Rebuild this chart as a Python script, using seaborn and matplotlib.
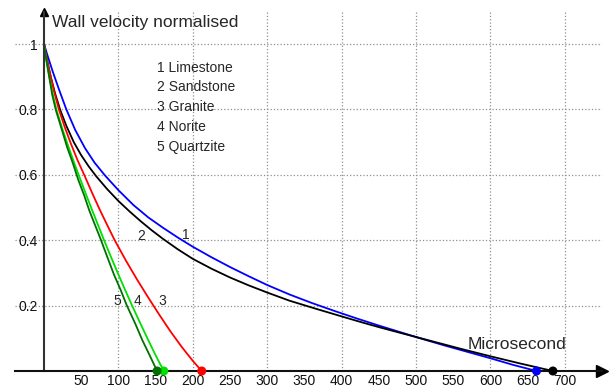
import pandas as pd
import numpy as np
import seaborn as sns
import matplotlib.pyplot as plt

# valores (microsegundos, velocidade normalizada)
rochas = ["Limestone", "Sandstone", "Granite", "Norite", "Quartzite"]
cores = ["#0000ff", "#000000", "#ff0000", "#00e000", "#007000"]

limestone_x = [0, 5, 12, 20, 30, 42, 55, 68, 82, 100, 120, 140, 160, 180, 200, 225, 250,
               275, 300, 330, 360, 390, 420, 450, 480, 510, 540, 570, 600, 630, 662]
limestone_y = [1, 0.963, 0.914, 0.862, 0.8, 0.737, 0.682, 0.637, 0.598, 0.553, 0.508, 0.47,
               0.438, 0.408, 0.38, 0.348, 0.318, 0.29, 0.263, 0.234, 0.208, 0.184, 0.161,
               0.139, 0.118, 0.097, 0.077, 0.058, 0.039, 0.019, 0]
sandstone_x = [0, 4, 9, 15, 22, 30, 40, 50, 60, 70, 85, 100, 115, 130, 145, 160, 180, 200,
               225, 250, 275, 300, 330, 366, 400, 430, 452, 480, 500, 530, 560, 600, 640, 684]
sandstone_y = [1, 0.952, 0.9, 0.848, 0.797, 0.75, 0.7, 0.66, 0.626, 0.596, 0.556, 0.52,
               0.488, 0.458, 0.43, 0.404, 0.372, 0.343, 0.313, 0.286, 0.262, 0.24, 0.215,
               0.19, 0.167, 0.147, 0.133, 0.116, 0.104, 0.086, 0.068, 0.045, 0.023, 0]
granite_x = [0, 4, 9, 14, 20, 28, 36, 45, 54, 65, 75, 85, 95, 110, 125, 140, 155, 170,
             185, 200, 212]
granite_y = [1, 0.953, 0.9, 0.851, 0.8, 0.745, 0.696, 0.645, 0.6, 0.543, 0.493, 0.446,
             0.4, 0.338, 0.28, 0.225, 0.172, 0.121, 0.074, 0.031, 0]
norite_x = [0, 3, 7, 12, 17, 25, 33, 41, 49, 57, 65, 73, 80, 90, 100, 109, 118, 130,
            140, 150, 161]
norite_y = [1, 0.953, 0.9, 0.845, 0.797, 0.738, 0.685, 0.634, 0.585, 0.537, 0.49, 0.444,
            0.404, 0.349, 0.295, 0.248, 0.202, 0.143, 0.095, 0.048, 0]
quartzite_x = [0, 3, 7, 11, 16, 24, 31, 39, 46, 54, 61, 69, 76, 85, 94, 103, 111, 123,
               132, 142, 152]
quartzite_y = [1, 0.953, 0.9, 0.845, 0.797, 0.738, 0.685, 0.634, 0.585, 0.537, 0.49,
               0.444, 0.404, 0.349, 0.295, 0.248, 0.202, 0.143, 0.095, 0.048, 0]

xticks = [50, 100, 150, 200, 250, 300, 350, 400, 450, 500, 550, 600, 650, 700]
yticks = [0.2, 0.4, 0.6, 0.8, 1.0]
ytick_labels = ["0.2", "0.4", "0.6", "0.8", "1"]

# rotulos numericos junto das curvas
num_labels = ["1", "2", "3", "4", "5"]
num_x = [190, 130, 159, 125, 98]
num_y = [0.416, 0.413, 0.214, 0.214, 0.214]

# montando tabela longa
partes = []
for nome, xs, ys in zip(rochas,
                        [limestone_x, sandstone_x, granite_x, norite_x, quartzite_x],
                        [limestone_y, sandstone_y, granite_y, norite_y, quartzite_y]):
    partes.append(pd.DataFrame({"t": xs, "v": ys, "rock": nome}))
dados = pd.concat(partes, ignore_index=True)
fim = dados.groupby("rock", sort=False).tail(1)

sns.set_style("white")
plt.rcParams["font.family"] = ["Liberation Sans", "DejaVu Sans"]

fig = plt.figure(figsize=(6.11, 3.87), dpi=100)
ax = fig.add_axes([15 / 611, 16 / 387, 587 / 611, 359 / 387])
ax.set_xlim(-39, 750)
ax.set_ylim(0, 1.098)

# grade pontilhada
for gx in range(100, 800, 100):
    ax.axvline(gx, color="#909090", ls=":", lw=0.9, zorder=0)
for gy in yticks:
    ax.axhline(gy, color="#909090", ls=":", lw=0.9, zorder=0)

paleta = dict(zip(rochas, cores))
sns.lineplot(data=dados, x="t", y="v", hue="rock", palette=paleta, sort=False,
             estimator=None, legend=False, lw=1.3, ax=ax, clip_on=False, zorder=3)
sns.scatterplot(data=fim, x="t", y="v", hue="rock", palette=paleta, legend=False,
                s=42, edgecolor="none", ax=ax, clip_on=False, zorder=5)

# eixos com setas
for s in ["top", "right"]:
    ax.spines[s].set_visible(False)
ax.spines["left"].set_position(("data", 0))
ax.spines["left"].set_color("#333333")
ax.spines["bottom"].set_color("#111111")
ax.spines["left"].set_linewidth(1.5)
ax.spines["bottom"].set_linewidth(1.5)
ax.spines["left"].set_zorder(4)
ax.spines["bottom"].set_zorder(4)
ax.plot(1, 0, ">k", ms=8, transform=ax.get_yaxis_transform(), clip_on=False)
ax.plot(0, 1, "^k", ms=6, transform=ax.get_xaxis_transform(), clip_on=False)

ax.set_xticks(xticks)
ax.set_xticklabels([str(v) for v in xticks])
ax.set_yticks(yticks)
ax.set_yticklabels(ytick_labels)
ax.tick_params(axis="both", direction="inout", length=5, width=1, labelsize=10,
               colors="#111111", pad=2)
ax.tick_params(axis="x", pad=0)
ax.set_xlabel("")
ax.set_ylabel("")

for lab, lx, ly in zip(num_labels, num_x, num_y):
    ax.text(lx, ly, lab, fontsize=10, ha="center", va="center")

legenda_y = [0.927, 0.869, 0.807, 0.746, 0.685]
for i, (nome, ly) in enumerate(zip(rochas, legenda_y)):
    ax.text(152, ly, f"{i + 1} {nome}", fontsize=10, ha="left", va="center")

ax.text(11, 1.067, "Wall velocity normalised", fontsize=12.5, ha="left", va="center")
ax.text(570, 0.08, "Microsecond", fontsize=12.5, ha="left", va="center")

fig.savefig("out.png", dpi=100)
